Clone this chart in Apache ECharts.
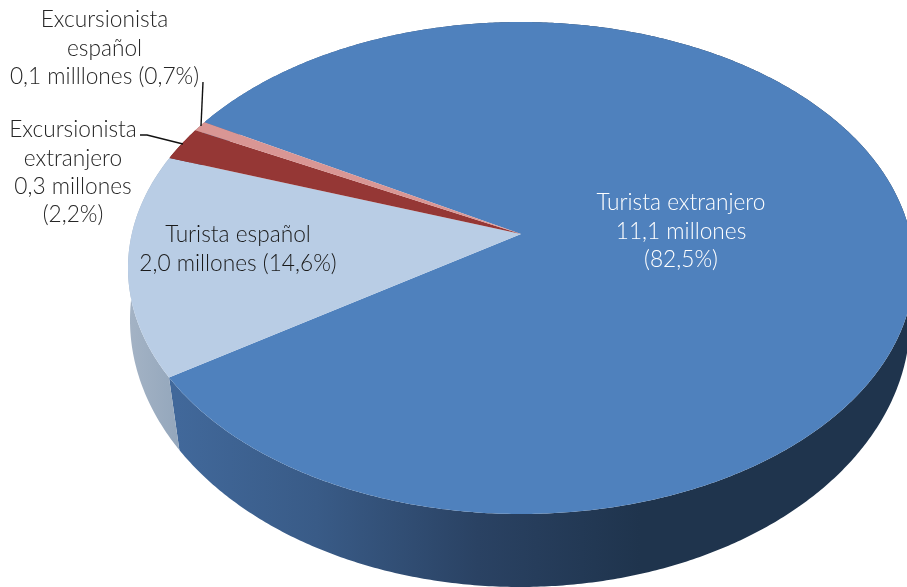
<!DOCTYPE html>
<html><head><meta charset="utf-8">
<script src="https://cdn.jsdelivr.net/npm/echarts@6/dist/echarts.min.js"></script>
<style>html,body{margin:0;padding:0;background:#fff}#c{width:907px;height:587px}</style>
</head><body><div id="c"></div>
<script>
const names = ['Turista extranjero','Turista español','Excursionista extranjero','Excursionista español'];
const shares = [82.5,14.6,2.2,0.7];
const millions = [11.1,2.0,0.3,0.1];
const labelLines = [
  ['Turista extranjero','11,1 millones','(82,5%)'],
  ['Turista español','2,0 millones (14,6%)'],
  ['Excursionista','extranjero','0,3 millones','(2,2%)'],
  ['Excursionista','español','0,1 milllones (0,7%)']
];
const topColors = ['#4f81bd','#b9cde5','#953735','#d99694'];

const START = 209.7;
const TOP = {cx:521, cy:268, rx:393, ry:246, a:-0.138};
const BOT = {cx:520, cy:320, rx:390, ry:267, a:-0.0846};
const LABEL_POS = [[681,203],[238,235],[73,130],[104.5,20]];
const LABEL_COL = ['#ffffff','#1a1a1a','#262626','#262626'];
const LINE_H = 28.2;
const LEADERS = [null,null,[[140,135],[147,135],[183,144]],[[203,82],[201,126]]];

function pt(deg,E){
  const t=deg*Math.PI/180,c=Math.cos(t),s=Math.sin(t),d=1+E.a*s;
  return [E.cx+E.rx*c*Math.sqrt(1-E.a*E.a)/d, E.cy+E.ry*(s+E.a)/d];
}
function arc(a0,a1,E){
  const o=[],n=Math.max(2,Math.ceil((a1-a0)/0.5));
  for(let i=0;i<=n;i++)o.push(pt(a0+(a1-a0)*i/n,E));
  return o;
}
function span(i){
  const total=shares.reduce((a,b)=>a+b,0);
  let a=START;
  for(let k=0;k<i;k++)a+=shares[k]/total*360;
  return [a,a+shares[i]/total*360];
}
const apex=[TOP.cx,TOP.cy+TOP.ry*TOP.a];
const wallFill=[
  new echarts.graphic.LinearGradient(178,0,640,0,[
    {offset:0,color:'#41689a'},{offset:0.3,color:'#395b87'},{offset:0.65,color:'#2a4263'},{offset:1,color:'#1f344d'}],true),
  new echarts.graphic.LinearGradient(128,0,178,0,[
    {offset:0,color:'#a4b3c5'},{offset:1,color:'#94a7bc'}],true),
  '#6b2725','#9b6b6a'
];
const seriesData=shares.map((v,i)=>({value:[v,i],name:names[i]}));

const option={
  animation:false,
  backgroundColor:'#ffffff',
  series:[
    {type:'custom',coordinateSystem:'none',z:1,silent:true,data:seriesData,
     renderItem:(p,api)=>{
       const i=api.value(1),[a,b]=span(i);
       const pts=arc(a,b,TOP).concat(arc(a,b,BOT).reverse());
       return {type:'polygon',shape:{points:pts},style:{fill:wallFill[i]}};
     }},
    {type:'custom',coordinateSystem:'none',z:2,silent:true,data:seriesData,
     renderItem:(p,api)=>{
       const i=api.value(1),[a,b]=span(i);
       return {type:'polygon',shape:{points:[apex].concat(arc(a,b,TOP))},style:{fill:topColors[i]}};
     }},
    {type:'custom',coordinateSystem:'none',z:3,silent:true,data:seriesData,
     renderItem:(p,api)=>{
       const i=api.value(1),ch=[];
       labelLines[i].forEach((t,k)=>ch.push({type:'text',style:{
         text:t,x:LABEL_POS[i][0],y:LABEL_POS[i][1]+k*LINE_H,align:'center',verticalAlign:'middle',
         font:'300 22.7px Lato, sans-serif',fill:LABEL_COL[i]}}));
       if(LEADERS[i])ch.push({type:'polyline',shape:{points:LEADERS[i]},style:{stroke:'#111',lineWidth:1.4,fill:'none'}});
       return {type:'group',children:ch};
     }}
  ]
};
echarts.init(document.getElementById('c'),null,{renderer:'canvas'}).setOption(option);
</script></body></html>
